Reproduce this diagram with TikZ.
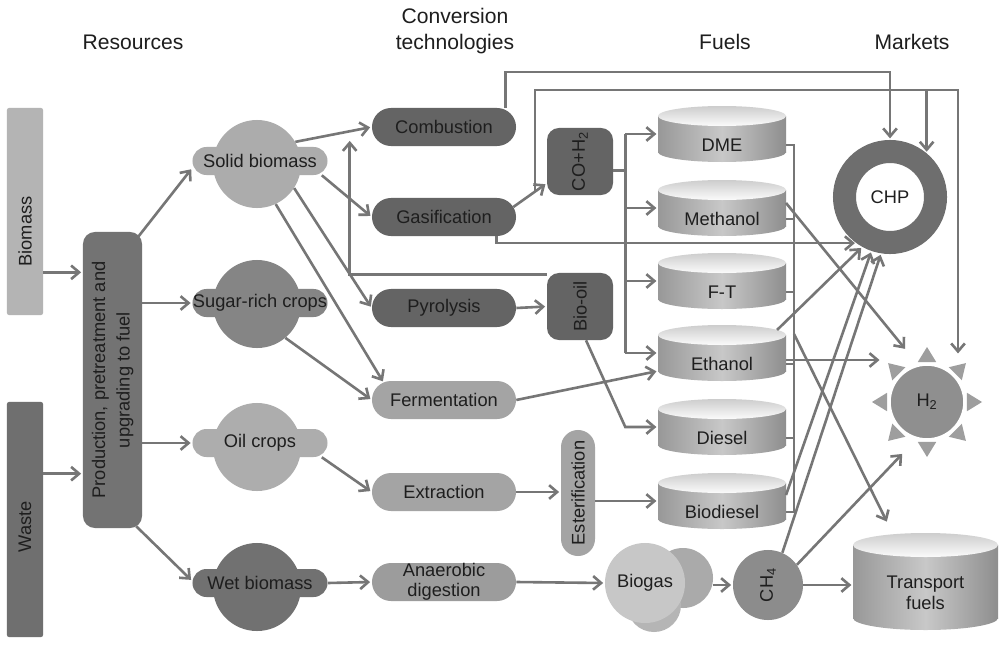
\documentclass[tikz,border=0pt]{standalone}
\usepackage{fontspec}
\setmainfont{Liberation Sans}
\usepackage{graphicx}
\definecolor{bmgray}{RGB}{180,180,180}
\definecolor{wastegray}{RGB}{111,111,111}
\definecolor{prodgray}{RGB}{115,115,115}
\definecolor{solidgray}{RGB}{172,172,172}
\definecolor{sugargray}{RGB}{133,133,133}
\definecolor{oilgray}{RGB}{173,173,173}
\definecolor{wetgray}{RGB}{113,113,113}
\definecolor{techdark}{RGB}{100,100,100}
\definecolor{techlight}{RGB}{164,164,164}
\definecolor{anagray}{RGB}{156,156,156}
\definecolor{linegray}{RGB}{118,118,118}
\definecolor{ringgray}{RGB}{110,110,110}
\definecolor{sungray}{RGB}{143,143,143}
\definecolor{raygray}{RGB}{158,158,158}
\definecolor{ch4gray}{RGB}{140,140,140}
\definecolor{gasfront}{RGB}{199,199,199}
\definecolor{gasback}{RGB}{170,170,170}
\definecolor{gasbottom}{RGB}{181,181,181}
\definecolor{cylside}{RGB}{152,152,152}
\definecolor{cylmid}{RGB}{200,200,200}
\definecolor{cylright}{RGB}{142,142,142}
\definecolor{cyltop}{RGB}{205,205,205}
\definecolor{txtgray}{RGB}{30,30,30}
\usetikzlibrary{arrows.meta,positioning,calc}

\begin{document}
\begin{tikzpicture}[x=0.025cm,y=-0.025cm,
  coltitle/.style={font=\fontsize{15}{19}\selectfont,text=txtgray,inner sep=0},
  lbl/.style={font=\fontsize{13}{15}\selectfont,text=txtgray},
  bar/.style={rectangle,rounded corners=0.05cm,minimum width=0.9cm,inner sep=0,lbl},
  resblob/.style={circle,minimum size=2.2cm,inner sep=0},
  respill/.style={rectangle,rounded corners=0.35cm,minimum width=3.375cm,minimum height=0.7cm,inner sep=0,lbl},
  techbox/.style={rectangle,rounded corners=0.475cm,minimum width=3.6cm,minimum height=0.95cm,inner sep=0,lbl},
  darktech/.style={techbox,fill=techdark},
  lighttech/.style={techbox,fill=techlight},
  midbox/.style={rectangle,rounded corners=0.3cm,fill=techdark,minimum width=1.65cm,minimum height=1.675cm,inner sep=0,lbl},
  fuel/.style={rectangle,minimum width=3.2cm,minimum height=0.9cm,inner sep=0,outer sep=0},
  fueltext/.style={lbl,yshift=-0.275cm},
  cylbody/.style={left color=cylside,right color=cylright,middle color=cylmid},
  cyllid/.style={top color=cyltop,bottom color=white!92!cyltop},
  conn/.style={draw=linegray,line width=0.065cm},
  arr/.style={conn,-{Straight Barb[length=0.2cm,width=0.34cm]},shorten >=0.04cm}]
  \path[use as bounding box,fill=white] (0,0) rectangle (1004,644);

  % column titles
  \node[coltitle] (tres) at (133,42) {Resources};
  \node[coltitle,align=center] (tconv) at (455,31) {Conversion\\technologies};
  \node[coltitle] (tfuel) at (725,42) {Fuels};
  \node[coltitle] (tmkt) at (912,42) {Markets};

  % resources
  \node[bar,fill=bmgray,minimum height=5.175cm] (biomass) at (25,211.5) {\rotatebox{90}{Biomass\hspace{1cm}}};
  \node[bar,fill=wastegray,minimum height=5.875cm] (waste) at (25,519.5) {\rotatebox{90}{Waste\hspace{0.375cm}}};
  \node[rectangle,rounded corners=0.3cm,fill=prodgray,minimum width=1.475cm,minimum height=7.4cm,inner sep=0,font=\fontsize{13}{17.5}\selectfont,text=txtgray] (prod) at (112.5,380)
    {\rotatebox{90}{\begin{tabular}{@{}c@{}}Production, pretreatment and\\upgrading to fuel\end{tabular}}};

  \node[resblob,fill=solidgray] (solid) at (257,164) {};
  \node[respill,fill=solidgray] (solidt) at (260,161) {Solid biomass};
  \node[resblob,fill=sugargray] (sugar) at (257,304) {};
  \node[respill,fill=sugargray] (sugart) at (260,303) {Sugar-rich crops};
  \node[resblob,fill=oilgray] (oil) at (257,447) {};
  \node[respill,fill=oilgray] (oilt) at (260,443) {Oil crops};
  \node[resblob,fill=wetgray] (wet) at (257,587) {};
  \node[respill,fill=wetgray] (wett) at (260,583) {Wet biomass};

  % conversion technologies
  \node[darktech] (comb) at (444,127) {Combustion};
  \node[darktech] (gas) at (444,217) {Gasification};
  \node[darktech] (pyro) at (444,308) {Pyrolysis};
  \node[lighttech] (ferm) at (444,400) {Fermentation};
  \node[lighttech] (extr) at (444,492) {Extraction};
  \node[lighttech,fill=anagray,align=center,font=\fontsize{13}{14.2}\selectfont] (anaer) at (444,582) {Anaerobic\\digestion};

  \node[midbox] (co) at (580,161.5) {\rotatebox{90}{CO+H\textsubscript{2}}};
  \node[midbox] (biooil) at (580,306.5) {\rotatebox{90}{Bio-oil}};
  \node[rectangle,rounded corners=0.425cm,fill=techlight,minimum width=0.85cm,minimum height=3.15cm,inner sep=0,lbl] (ester) at (578,493) {\rotatebox{90}{Esterification}};

  \node[circle,fill=gasback,minimum size=1.5cm,inner sep=0] (biogasb) at (683,578) {};
  \node[circle,fill=gasbottom,minimum size=1.35cm,inner sep=0] (biogasc) at (654,605) {};
  \node[circle,fill=gasfront,minimum size=2cm,inner sep=0,lbl] (biogas) at (645,583) {Biogas};
  \node[circle,fill=ch4gray,minimum size=1.75cm,inner sep=0,lbl] (ch4) at (768,585) {\rotatebox{90}{CH\textsubscript{4}}};

  % fuels
  \foreach \nm/\yt/\txt in {dme/116/DME,methanol/190/Methanol,ft/263/F-T,ethanol/335/Ethanol,diesel/409/Diesel,biodiesel/483/Biodiesel}{
    \shade[cylbody] (658,\yt) rectangle (786,\yt+36);
    \shade[cylbody] (722,\yt+36) ellipse[x radius=64,y radius=10];
    \shade[cyllid] (722,\yt) ellipse[x radius=64,y radius=10];
    \node[fuel,label={[fueltext]center:\txt}] (\nm) at (722,\yt+18) {};
  }

  % markets
  \node[circle,draw=ringgray,line width=0.575cm,fill=white,minimum size=2.275cm,inner sep=0,lbl] (chp) at (890,197) {CHP};

  \coordinate (h2c) at (927,402);
  \foreach \a in {0,45,...,315}
    \fill[raygray] ($(h2c)+(\a:55)$) -- ($(h2c)+(\a+13:41)$) -- ($(h2c)+(\a-13:41)$) -- cycle;
  \filldraw[fill=sungray,draw=white,line width=0.04cm] (h2c) circle[radius=37];
  \node[circle,minimum size=2.8cm,inner sep=0,outer sep=0,lbl] (h2) at (h2c) {H\textsubscript{2}};

  \shade[cylbody] (853,545) rectangle (998,618);
  \shade[cylbody] (925.5,618) ellipse[x radius=72.5,y radius=12];
  \shade[cyllid] (925.5,545) ellipse[x radius=72.5,y radius=12];
  \node[fuel,minimum width=3.625cm,minimum height=1.825cm,label={[fueltext,align=center,yshift=-0.015cm]center:Transport\\fuels}] (transport) at (925.5,581.5) {};

  % resources -> production -> feedstocks
  \draw[arr] ($(biomass.south east)+(0,-43)$) coordinate (bm) -- (bm -| prod.west);
  \draw[arr] ($(waste.north east)+(0,72)$) coordinate (ws) -- (ws -| prod.west);
  \draw[arr] ($(prod.north east)+(-4,5)$) -- ($(solidt.west)+(0,7)$);
  \draw[arr] (prod.east |- sugart.west) -- (sugart.west);
  \draw[arr] (prod.east |- oilt.west) -- (oilt.west);
  \draw[arr] ($(prod.south east)+(-6,-2)$) -- ($(wett.west)+(0,-2)$);

  % feedstocks -> conversion
  \draw[arr] (solid.30) -- (comb.west);
  \draw[arr] ($(solidt.south east)+(-6,0)$) -- (gas.west);
  \draw[arr] (solid.-33) -- (pyro.west);
  \draw[arr] (solid.-65) -- ($(ferm.north west)+(12,2)$);
  \draw[arr] (sugar.-50) -- (ferm.west);
  \draw[arr] ($(oilt.south east)+(-6,0)$) -- (extr.west);
  \draw[arr] (wett.east) -- (anaer.west);

  % conversion -> intermediates
  \draw[arr] (pyro.east) -- (biooil.west);
  \draw[arr] ($(gas.east)+(-3,-10)$) -- coordinate[pos=0.65] (syn) ($(co.south west)+(0,-12)$);
  \draw[arr] ($(biooil.north west)+(0,2)$) -| ($(comb.south west)+(-22,-7)$);
  \draw[arr] (extr.east) -- (extr.east -| ester.west);
  \draw[arr] (anaer.east) -- (biogas.west);
  \draw[arr] (ch4.west -| biogasb.east) -- (ch4.west);

  % intermediates -> fuels
  \draw[conn] ($(co.east)+(0,9)$) -- ++(12,0) coordinate (cobus);
  \draw[conn] (cobus |- dme.west) -- (cobus |- ethanol.west);
  \foreach \f in {dme,methanol,ft,ethanol}
    \draw[arr] (cobus |- \f.west) -- (\f.west);
  \draw[arr] ($(biooil.south)+(6,0)$) -- (cobus |- diesel.west) -- (diesel.west);
  \draw[arr] (ferm.east) -- (ethanol.south west);
  \draw[arr] (ester.east |- biodiesel.west) -- (biodiesel.west);

  % fuels collector -> transport
  \draw[conn] ($(dme.south east)+(0,-7)$) -| ($(biodiesel.south east)+(8,-7)$) -- ($(biodiesel.south east)+(0,-7)$);
  \foreach \f in {methanol,ft,ethanol,diesel}
    \draw[conn] ($(\f.south east)+(0,-7)$) -- ++(8,0);
  \coordinate (bustap) at (794,334);
  \draw[arr] (bustap) -- ($(transport.north)+(-38,-22)$);

  % to markets
  \coordinate (syntop) at (958,90);
  \draw[arr] (syn) |- (syntop) -- (syntop |- h2.57);
  \draw[arr] (syntop -| chp.50) -- (chp.50);
  \draw[arr] ($(comb.north east)+(-11,0)$) |- ($(chp.north)+(0,-68)$) -- (chp.north);
  \draw[arr] ($(gas.south east)+(-20,0)$) |- (chp.-126);
  \draw[arr] ($(ethanol.north east)+(-9,-5)$) -- (chp.-119);
  \draw[arr] ($(biodiesel.north east)+(0,12)$) -- (chp.-109);
  \draw[arr] (ch4.66) -- (chp.-99);
  \draw[arr] ($(methanol.north east)+(0,13)$) -- (h2.112);
  \draw[arr] ($(ethanol.east)+(0,7)$) coordinate (eh) -- (eh -| h2.145);
  \draw[arr] (ch4.35) -- (h2.-115);
  \draw[arr] (ch4.east) -- (ch4.east -| transport.west);
\end{tikzpicture}
\end{document}
